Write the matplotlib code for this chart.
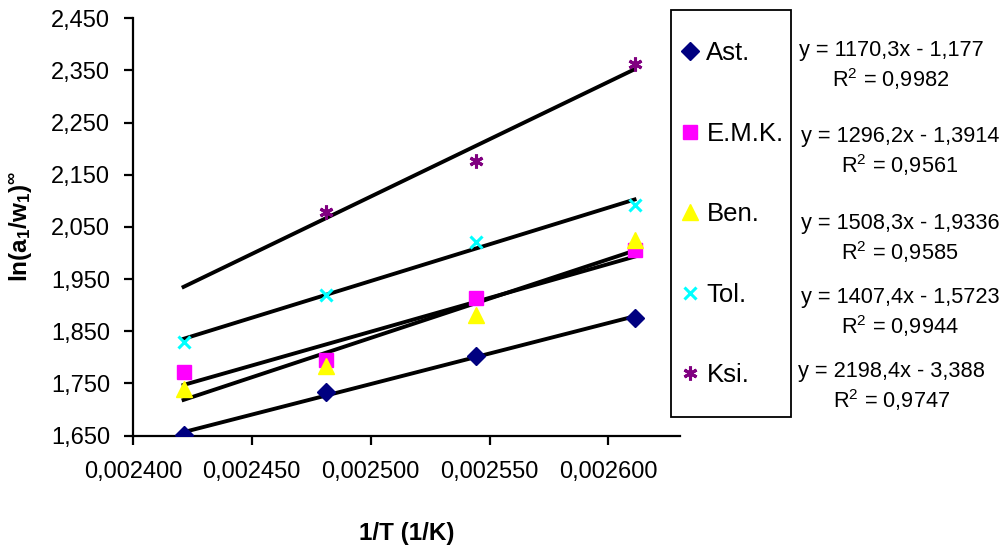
import numpy as np
import matplotlib
matplotlib.use('Agg')
import matplotlib.pyplot as plt
from matplotlib.patches import Rectangle
from matplotlib.ticker import FuncFormatter

plt.rcParams['font.family'] = ['Liberation Sans', 'DejaVu Sans']
plt.rcParams['mathtext.fontset'] = 'custom'
plt.rcParams['mathtext.rm'] = 'Liberation Sans'
plt.rcParams['mathtext.it'] = 'Liberation Sans'
plt.rcParams['mathtext.bf'] = 'Liberation Sans:bold'

# %% data
inv_T = [0.0024213, 0.0024814, 0.0025445, 0.0026110]
names = ['Ast.', 'E.M.K.', 'Ben.', 'Tol.', 'Ksi.']
ast = [1.652, 1.733, 1.803, 1.876]
emk = [1.772, 1.794, 1.913, 2.005]
ben = [1.740, 1.784, 1.882, 2.024]
tol = [1.829, 1.920, 2.021, 2.092]
ksi = [np.nan, 2.078, 2.177, 2.363]
slopes = [1170.3, 1296.2, 1508.3, 1407.4, 2198.4]
intercepts = [-1.177, -1.3914, -1.9336, -1.5723, -3.388]
r2 = ['0,9982', '0,9561', '0,9585', '0,9944', '0,9747']
eq_slope_txt = ['1170,3', '1296,2', '1508,3', '1407,4', '2198,4']
eq_icpt_txt = ['1,177', '1,3914', '1,9336', '1,5723', '3,388']

series = [ast, emk, ben, tol, ksi]
markers = ['D', 's', '^', 'x', (6, 2, 0)]
colors = ['#000080', '#FF00FF', '#FFFF00', '#00FFFF', '#800080']
msizes = [9, 9.5, 11.5, 9, 10]

# %% plot
fig = plt.figure(figsize=(10.07, 5.5), dpi=100)
ax = fig.add_axes([0.132, 0.208, 0.543, 0.759])

x = np.array(inv_T)
handles = []
for ys, m, c, ms, name in zip(series, markers, colors, msizes, names):
    mew = 2.2 if m in ('x', (6, 2, 0)) else 1
    h, = ax.plot(x, ys, linestyle='none', marker=m, color=c, ms=ms,
                 mew=mew, label=name, zorder=3)
    handles.append(h)
for k, b in zip(slopes, intercepts):
    xx = np.array([x[0], x[-1]])
    ax.plot(xx, k * xx + b, color='black', lw=2.8, zorder=2)

ax.set_xlim(0.0024, 0.00263)
ax.set_ylim(1.65, 2.45)
ax.set_xticks([0.0024, 0.00245, 0.0025, 0.00255, 0.0026])
ax.set_yticks(np.arange(1.65, 2.451, 0.1))
ax.xaxis.set_major_formatter(FuncFormatter(lambda v, p: f'{v:.6f}'.replace('.', ',')))
ax.yaxis.set_major_formatter(FuncFormatter(lambda v, p: f'{v:.3f}'.replace('.', ',')))
ax.tick_params(axis='both', labelsize=17, width=1.6, length=6.5, direction='out')
ax.tick_params(axis='y', pad=10)
ax.tick_params(axis='x', pad=12)
for s in ['top', 'right']:
    ax.spines[s].set_visible(False)
for s in ['left', 'bottom']:
    ax.spines[s].set_linewidth(1.6)
ax.set_xlabel('1/T (1/K)', fontsize=17.5, fontweight='bold', labelpad=28)
ax.set_ylabel(r'$\mathbf{ln(a_1/w_1)^{\infty}}$', fontsize=17.5, labelpad=12)

# legend box
fig.add_artist(Rectangle((671 / 1007, 1 - 417 / 550), 120 / 1007, 407 / 550,
                         transform=fig.transFigure, fill=False,
                         edgecolor='black', lw=1.3))
leg = fig.legend(handles=handles, loc='upper left',
                 bbox_to_anchor=(682 / 1007, 1 - 41 / 550), frameon=False,
                 fontsize=18.5, handlelength=0.6, handletextpad=0.35,
                 labelspacing=2.2, borderaxespad=0, borderpad=0)

# trendline equations
eq_x = [891, 900, 900, 900, 892]
eq_y = [66, 152, 239, 313, 387]
for i in range(5):
    txt = f'y = {eq_slope_txt[i]}x - {eq_icpt_txt[i]}\nR$^2$ = {r2[i]}'
    fig.text(eq_x[i] / 1007, 1 - eq_y[i] / 550, txt, ha='center', va='center',
             multialignment='center', fontsize=15.7, linespacing=1.25)

plt.savefig('out.png')
